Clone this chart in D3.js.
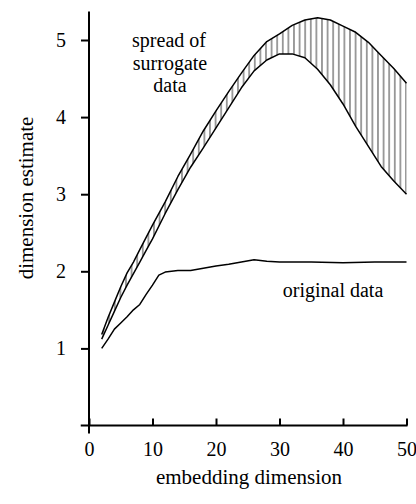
<!DOCTYPE html>
<html>
<head>
<meta charset="utf-8"/>
<title>dimension estimate</title>
<script src="https://cdnjs.cloudflare.com/ajax/libs/d3/7.8.5/d3.min.js"></script>
<style>
html, body {
    margin: 0;
    padding: 0;
    background: #fff;
}
</style>
</head>
<body>
<svg id="chart" width="416" height="504"></svg>
<script>

// embedding dimension -> estimate
var origDims = [2, 3, 4, 5, 6, 7, 8, 9, 10, 11, 12, 14, 16, 18, 20, 22, 24, 26, 28, 30, 35, 40, 45, 50];
var origVals = [1.0, 1.12, 1.25, 1.33, 1.41, 1.5, 1.57, 1.7, 1.82, 1.95, 1.99, 2.01, 2.01, 2.04, 2.07, 2.09, 2.12, 2.15, 2.13, 2.12, 2.12, 2.11, 2.12, 2.12];

var surrDims  = [2, 3, 4, 5, 6, 7, 8, 9, 10, 12, 14, 16, 18, 20, 22, 24, 26, 28, 30, 32, 34, 36, 38, 40, 42, 44, 46, 48, 50];
var surrUpper = [1.18, 1.40, 1.60, 1.80, 1.98, 2.12, 2.28, 2.44, 2.60, 2.90, 3.23, 3.52, 3.82, 4.08, 4.33, 4.57, 4.80, 4.98, 5.08, 5.19, 5.26, 5.29, 5.26, 5.18, 5.10, 4.97, 4.80, 4.63, 4.44];
var surrLower = [1.12, 1.30, 1.48, 1.66, 1.82, 1.97, 2.12, 2.27, 2.42, 2.75, 3.06, 3.35, 3.60, 3.86, 4.12, 4.38, 4.60, 4.74, 4.82, 4.82, 4.77, 4.62, 4.42, 4.17, 3.88, 3.62, 3.36, 3.17, 3.00];

var xTicks = [0, 10, 20, 30, 40, 50];
var yTicks = [1, 2, 3, 4, 5];

// one family name, no letter-spacing: both made the renderer fall back to sans
var FONT = "Liberation Serif";

var svg = d3.select("#chart");

var x = d3.scaleLinear().domain([0, 50]).range([89, 406.5]);
var y = d3.scaleLinear().domain([0, 5]).range([425.5, 40]);

// hatch pattern for the surrogate band
var defs = svg.append("defs");
var pat = defs.append("pattern")
    .attr("id", "hatch")
    .attr("patternUnits", "userSpaceOnUse")
    .attr("width", 5.6)
    .attr("height", 10);
pat.append("line")
    .attr("x1", 2.8).attr("x2", 2.8)
    .attr("y1", 0).attr("y2", 10)
    .attr("stroke", "#222")
    .attr("stroke-width", 0.9);

var band = surrDims.map(function(d, i) { return [d, surrLower[i], surrUpper[i]]; });

var area = d3.area()
    .x(function(d) { return x(d[0]); })
    .y0(function(d) { return y(d[1]); })
    .y1(function(d) { return y(d[2]); });

svg.append("path")
    .attr("d", area(band))
    .attr("fill", "url(#hatch)")
    .attr("stroke", "none");

var line = d3.line()
    .x(function(d) { return x(d[0]); })
    .y(function(d) { return y(d[1]); });

function drawLine(xs, ys) {
    svg.append("path")
        .attr("d", line(xs.map(function(d, i) { return [d, ys[i]]; })))
        .attr("fill", "none")
        .attr("stroke", "#000")
        .attr("stroke-width", 1.5)
        .attr("stroke-linejoin", "round");
}
drawLine(surrDims, surrUpper);
drawLine(surrDims, surrLower);
drawLine(origDims, origVals);

// X axis, ticks pointing inward
var xAxis = svg.append("g")
    .attr("transform", "translate(0," + y(0) + ")")
    .call(d3.axisBottom(x).tickValues(xTicks).tickFormat(d3.format("d")).tickSize(-7).tickPadding(0));
xAxis.attr("font-family", FONT).attr("font-size", 20);
xAxis.select(".domain").remove();
xAxis.selectAll("line").attr("stroke", "#000").attr("stroke-width", 2);
xAxis.selectAll("text")
    .attr("y", 30)
    .attr("dy", null)
    .attr("fill", "#000");
svg.append("line")
    .attr("x1", x(-1.3)).attr("x2", x(50) + 1)
    .attr("y1", y(0)).attr("y2", y(0))
    .attr("stroke", "#000").attr("stroke-width", 2);

// Y axis
var yAxis = svg.append("g")
    .attr("transform", "translate(" + x(0) + ",0)")
    .call(d3.axisLeft(y).tickValues(yTicks).tickFormat(d3.format("d")).tickSize(8).tickPadding(15));
yAxis.attr("font-family", FONT).attr("font-size", 20);
yAxis.select(".domain").remove();
yAxis.selectAll("line").attr("stroke", "#000").attr("stroke-width", 2);
yAxis.selectAll("text").attr("fill", "#000");
svg.append("line")
    .attr("x1", x(0)).attr("x2", x(0))
    .attr("y1", y(5.37)).attr("y2", y(0) + 8)
    .attr("stroke", "#000").attr("stroke-width", 2);

// text helper
function label(sel, size) {
    return sel.attr("font-family", FONT)
        .attr("font-size", size || 20)
        .attr("fill", "#000")
        .attr("text-anchor", "middle");
}

// axis titles
label(svg.append("text"), 21)
    .attr("x", 249).attr("y", 484)
    .text("embedding dimension");

label(svg.append("text"), 21)
    .attr("transform", "translate(33,198) rotate(-90)")
    .text("dimension estimate");

// annotations
label(svg.append("text")).attr("x", 169).attr("y", 47).text("spread of");
label(svg.append("text")).attr("x", 170).attr("y", 70).text("surrogate");
label(svg.append("text")).attr("x", 170).attr("y", 92).text("data");

label(svg.append("text"))
    .attr("x", 333).attr("y", 297)
    .text("original data");

</script>
</body>
</html>
